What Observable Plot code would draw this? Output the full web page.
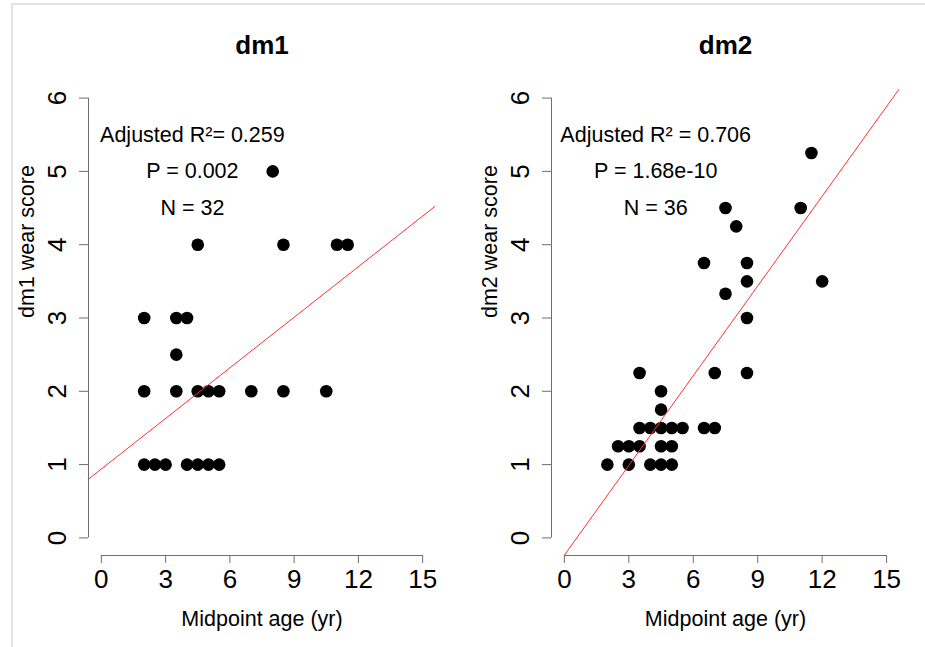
<!DOCTYPE html>
<html>
<head>
<meta charset="utf-8">
<script src="https://cdn.jsdelivr.net/npm/d3@7"></script>
<script src="https://cdn.jsdelivr.net/npm/@observablehq/plot@0.6"></script>
<style>
  html, body { margin: 0; padding: 0; background: #fff; }
  #wrap { position: relative; width: 925px; height: 647px; overflow: hidden; background: #fff; }
  .panel { position: absolute; top: 0; }
  #frame { position: absolute; left: 11px; top: 3px; right: 0; bottom: 0;
           border-top: 2px solid #e4e4e4; border-left: 2px solid #e4e4e4; pointer-events: none; }
</style>
</head>
<body>
<div id="wrap">
  <div id="p1" class="panel" style="left:0px"></div>
  <div id="p2" class="panel" style="left:462px"></div>
  <div id="frame"></div>
</div>
<script>
// ---- data ----
const xTicks = [0, 3, 6, 9, 12, 15];
const yTicks = [0, 1, 2, 3, 4, 5, 6];
const xLabel = "Midpoint age (yr)";

const dm1Age   = [8, 4.5, 8.5, 11, 11.5, 2, 3.5, 4, 3.5, 2, 3.5, 4.5, 5, 5.5, 7, 8.5, 10.5, 2, 2.5, 3, 4, 4.5, 5, 5.5];
const dm1Score = [5, 4, 4, 4, 4, 3, 3, 3, 2.5, 2, 2, 2, 2, 2, 2, 2, 2, 1, 1, 1, 1, 1, 1, 1];
const dm1Stats = ["Adjusted R\u00b2= 0.259", "P = 0.002", "N = 32"];
const dm1Fit   = [0.94, 0.23];   // intercept, slope

const dm2Age   = [11.5, 7.5, 11, 8, 6.5, 8.5, 8.5, 12, 7.5, 8.5, 3.5, 7, 8.5, 4.5, 4.5,
                  3.5, 4, 4.5, 5, 5.5, 6.5, 7, 2.5, 3, 3.5, 4.5, 5, 2, 3, 4, 4.5, 5];
const dm2Score = [5.25, 4.5, 4.5, 4.25, 3.75, 3.75, 3.5, 3.5, 3.33, 3, 2.25, 2.25, 2.25, 2, 1.75,
                  1.5, 1.5, 1.5, 1.5, 1.5, 1.5, 1.5, 1.25, 1.25, 1.25, 1.25, 1.25, 1, 1, 1, 1, 1];
const dm2Stats = ["Adjusted R\u00b2 = 0.706", "P = 1.68e-10", "N = 36"];
const dm2Fit   = [-0.235, 0.408];

// ---- scales (R-style 4% padding) ----
const pad = (t) => { const a = t[0], b = t[t.length - 1], p = (b - a) * 0.04; return [a - p, b + p]; };
const xDomain = pad(xTicks);
const yDomain = pad(yTicks);

const axisColor = "#6e6e6e";
const font = "'Liberation Sans', Arial, Helvetica, sans-serif";

function panel({title, yLabel, age, score, stats, fit, width, marginLeft, marginRight}) {
  const pts = age.map((a, i) => ({age: a, score: score[i]}));
  return Plot.plot({
    width, height: 647,
    marginLeft, marginRight, marginTop: 80, marginBottom: 92,
    style: {fontFamily: font, color: "#000", background: "transparent", overflow: "visible"},
    x: {domain: xDomain},
    y: {domain: yDomain},
    marks: [
      // axis lines
      Plot.ruleY([yDomain[0]], {x1: xTicks[0], x2: xTicks[xTicks.length - 1], stroke: axisColor, strokeWidth: 1}),
      Plot.ruleX([xDomain[0]], {y1: yTicks[0], y2: yTicks[yTicks.length - 1], stroke: axisColor, strokeWidth: 1}),
      // x axis ticks + labels
      Plot.axisX({ticks: xTicks, tickSize: 8, tickPadding: 6, fontSize: 26, stroke: axisColor, fill: "#000", label: null, anchor: "bottom", tickFormat: d => String(d)}),
      // y axis ticks (no text), rotated labels as text
      Plot.axisY({ticks: yTicks, tickSize: 9, stroke: axisColor, fill: "none", label: null, anchor: "left"}),
      Plot.text(yTicks, {y: d => d, text: d => String(d), frameAnchor: "left", dx: -23, rotate: -90,
                         lineAnchor: "bottom", textAnchor: "middle", fontSize: 26, fill: "#000"}),
      // titles
      Plot.text([title], {text: d => d, frameAnchor: "top", dy: -27, lineAnchor: "bottom", fontSize: 26, fontWeight: "bold", fill: "#000"}),
      Plot.text([xLabel], {text: d => d, frameAnchor: "bottom", dy: 70, lineAnchor: "bottom", fontSize: 21.5, fill: "#000"}),
      Plot.text([yLabel], {text: d => d, frameAnchor: "left", dx: -55, rotate: -90, lineAnchor: "bottom", fontSize: 21.5, fill: "#000"}),
      // stats annotation
      Plot.text(stats, {x: () => 4.25, y: (d, i) => 5.5 - 0.5 * i, text: d => d, fontSize: 21.5, lineAnchor: "middle", fill: "#000"}),
      // points
      Plot.dot(pts, {x: "age", y: "score", r: 6.3, fill: "#000", stroke: null}),
      // regression line
      Plot.line(xDomain, {x: d => d, y: d => fit[0] + fit[1] * d, stroke: "#ff3030", strokeWidth: 1, clip: true})
    ]
  });
}

document.getElementById("p1").appendChild(panel({
  title: "dm1", yLabel: "dm1 wear score", age: dm1Age, score: dm1Score, stats: dm1Stats, fit: dm1Fit,
  width: 462, marginLeft: 88, marginRight: 27
}));
document.getElementById("p2").appendChild(panel({
  title: "dm2", yLabel: "dm2 wear score", age: dm2Age, score: dm2Score, stats: dm2Stats, fit: dm2Fit,
  width: 463, marginLeft: 89, marginRight: 26
}));
</script>
</body>
</html>
